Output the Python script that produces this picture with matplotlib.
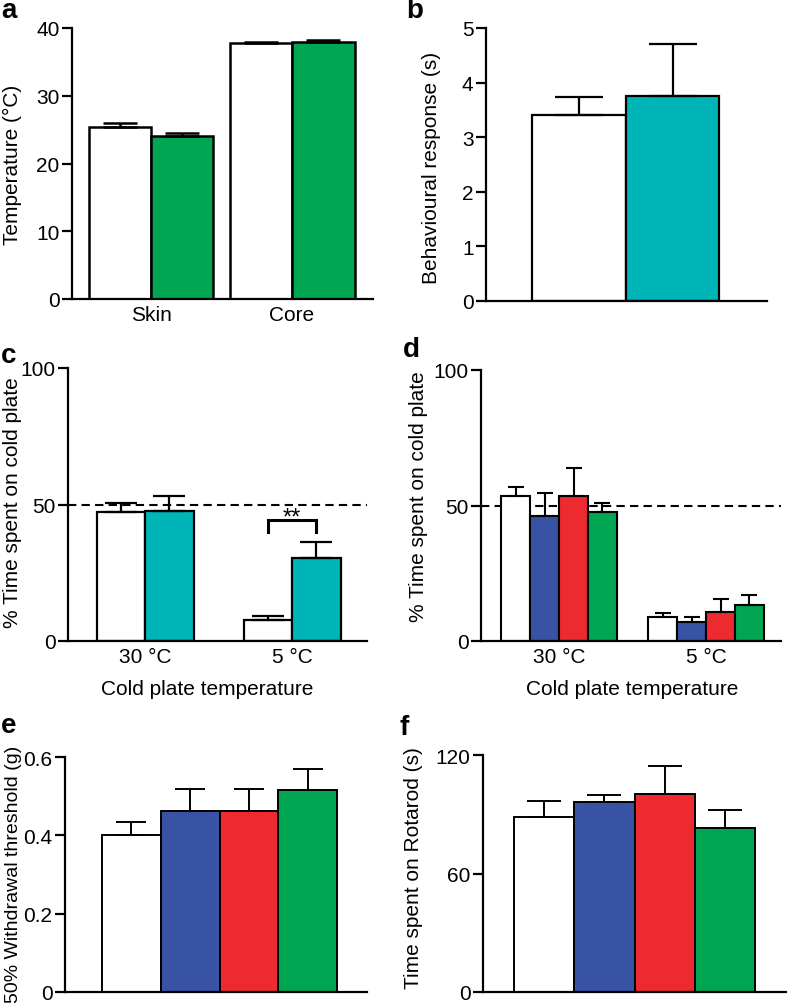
import numpy as np
import matplotlib
matplotlib.use("Agg")
import matplotlib.pyplot as plt

plt.rcParams['font.family'] = ['Liberation Sans', 'DejaVu Sans']
plt.rcParams['font.size'] = 15

# colours
WHITE = '#ffffff'
GREEN = '#00a651'
TEAL = '#00b5b8'
BLUE = '#3953a4'
RED = '#ed2a2f'

# panel a: skin / core temperature
temp_groups = ['Skin', 'Core']
temp_ctrl = [25.4, 37.8]
temp_ctrl_err = [0.6, 0.2]
temp_green = [24.1, 38.0]
temp_green_err = [0.4, 0.2]

# panel b: behavioural response
resp_vals = [3.4, 3.75]
resp_err = [0.33, 0.95]

# panel c: cold plate, two groups
plate_temps = ['30 °C', '5 °C']
c_ctrl = [47.2, 7.8]
c_ctrl_err = [3.5, 1.4]
c_teal = [47.7, 30.4]
c_teal_err = [5.3, 5.8]

# panel d: cold plate, four groups
d_white = [53.5, 9.0]
d_white_err = [3.4, 1.4]
d_blue = [46.1, 7.1]
d_blue_err = [8.4, 1.6]
d_red = [53.6, 10.7]
d_red_err = [10.4, 4.9]
d_green = [47.6, 13.4]
d_green_err = [3.2, 3.5]

# panel e: withdrawal threshold
thr_vals = [0.402, 0.463, 0.463, 0.517]
thr_err = [0.033, 0.056, 0.056, 0.052]

# panel f: rotarod
rot_vals = [88.4, 96.0, 100.1, 82.8]
rot_err = [8.4, 3.5, 14.5, 9.1]

four_colors = [WHITE, BLUE, RED, GREEN]

W, H = 788, 1004
fig = plt.figure(figsize=(W / 100, H / 100), dpi=100)


def add_ax(left, top, right, bottom):
    ax = fig.add_axes([left / W, 1 - bottom / H, (right - left) / W, (bottom - top) / H])
    ax.spines['top'].set_visible(False)
    ax.spines['right'].set_visible(False)
    ax.spines['left'].set_linewidth(1.6)
    ax.spines['bottom'].set_linewidth(1.6)
    ax.tick_params(axis='y', length=7, width=1.6, pad=2, labelsize=15)
    ax.tick_params(axis='x', length=0, pad=4, labelsize=15)
    return ax


def bars(ax, x, vals, errs, width, colors, capsize, lw=1.6):
    ax.bar(x, vals, width, color=colors, edgecolor='black', linewidth=lw, zorder=2)
    ax.errorbar(x, vals, yerr=[np.zeros(len(vals)), errs], fmt='none', ecolor='black',
                elinewidth=lw, capsize=capsize, capthick=lw, zorder=3)


# a
ax = add_ax(72, 29, 373, 300)
w = 0.443
g = np.arange(len(temp_groups))
bars(ax, g - w / 2, temp_ctrl, temp_ctrl_err, w, WHITE, 12, 1.8)
bars(ax, g + w / 2, temp_green, temp_green_err, w, GREEN, 12, 1.8)
ax.set_xlim(-0.56, 1.574)
ax.set_ylim(0, 40)
ax.set_yticks([0, 10, 20, 30, 40])
ax.set_xticks(g)
ax.set_xticklabels(temp_groups)
ax.set_ylabel('Temperature (°C)')
ax.yaxis.set_label_coords(-0.166, 0.5)

# b
ax = add_ax(486, 29, 767, 302)
bars(ax, [0, 1], resp_vals, resp_err, 1.0, [WHITE, TEAL], 17.5, 1.6)
ax.set_xlim(-0.995, 2.01)
ax.set_ylim(0, 5)
ax.set_yticks([0, 1, 2, 3, 4, 5])
ax.set_xticks([])
ax.set_ylabel('Behavioural response (s)')
ax.yaxis.set_label_coords(-0.160, 0.49)

# c
ax = add_ax(68, 369, 367, 642)
w = 0.33
g = np.arange(len(plate_temps))
ax.axhline(50, color='black', lw=1.5, ls=(0, (4, 2.5)), zorder=1)
bars(ax, g - w / 2, c_ctrl, c_ctrl_err, w, WHITE, 11.5, 1.6)
bars(ax, g + w / 2, c_teal, c_teal_err, w, TEAL, 11.5, 1.6)
ax.plot([1 - w / 2, 1 - w / 2, 1 + w / 2, 1 + w / 2], [40.0, 44.3, 44.3, 40.0],
        color='black', lw=2.2, solid_joinstyle='miter')
ax.text(1, 42.9, '**', ha='center', va='baseline', fontsize=17)
ax.set_xlim(-0.524, 1.51)
ax.set_ylim(0, 100)
ax.set_yticks([0, 50, 100])
ax.set_xticks(g)
ax.set_xticklabels(plate_temps)
ax.set_ylabel('% Time spent on cold plate')
ax.yaxis.set_label_coords(-0.154, 0.51)
ax.set_xlabel('Cold plate temperature')
ax.xaxis.set_label_coords(0.465, -0.139)

# d
ax = add_ax(481, 371, 781, 642)
w = 0.197
ax.axhline(50, color='black', lw=1.5, ls=(0, (4, 2.5)), zorder=1)
d_sets = [(d_white, d_white_err), (d_blue, d_blue_err), (d_red, d_red_err), (d_green, d_green_err)]
for i, (vals, errs) in enumerate(d_sets):
    bars(ax, g + (i - 1.5) * w, vals, errs, w, four_colors[i], 6, 1.5)
ax.set_xlim(-0.531, 1.51)
ax.set_ylim(0, 100)
ax.set_yticks([0, 50, 100])
ax.set_xticks(g)
ax.set_xticklabels(plate_temps)
ax.set_ylabel('% Time spent on cold plate')
ax.yaxis.set_label_coords(-0.177, 0.535)
ax.set_xlabel('Cold plate temperature')
ax.xaxis.set_label_coords(0.503, -0.139)

# e
ax = add_ax(65, 758, 367, 993)
bars(ax, np.arange(4), thr_vals, thr_err, 1.0, four_colors, 11, 1.4)
ax.set_xlim(-1.13, 4.01)
ax.set_ylim(0, 0.6)
ax.set_yticks([0, 0.2, 0.4, 0.6])
ax.set_yticklabels(['0', '0.2', '0.4', '0.6'])
ax.set_xticks([])
ax.set_ylabel('50% Withdrawal threshold (g)', fontsize=14)
ax.yaxis.set_label_coords(-0.142, 0.505)

# f
ax = add_ax(483, 756, 786, 993)
bars(ax, np.arange(4), rot_vals, rot_err, 1.0, four_colors, 12, 1.4)
ax.set_xlim(-1.01, 4.01)
ax.set_ylim(0, 120)
ax.set_yticks([0, 60, 120])
ax.set_xticks([])
ax.set_ylabel('Time spent on Rotarod (s)')
ax.yaxis.set_label_coords(-0.198, 0.527)

# panel letters
for letter, px, py in [('a', 1, 18), ('b', 406, 18), ('c', 1, 363), ('d', 403, 357),
                       ('e', 1, 733), ('f', 400, 735)]:
    fig.text(px / W, 1 - py / H, letter, fontsize=20, fontweight='bold', ha='left', va='baseline')

fig.savefig('out.png', dpi=100)
